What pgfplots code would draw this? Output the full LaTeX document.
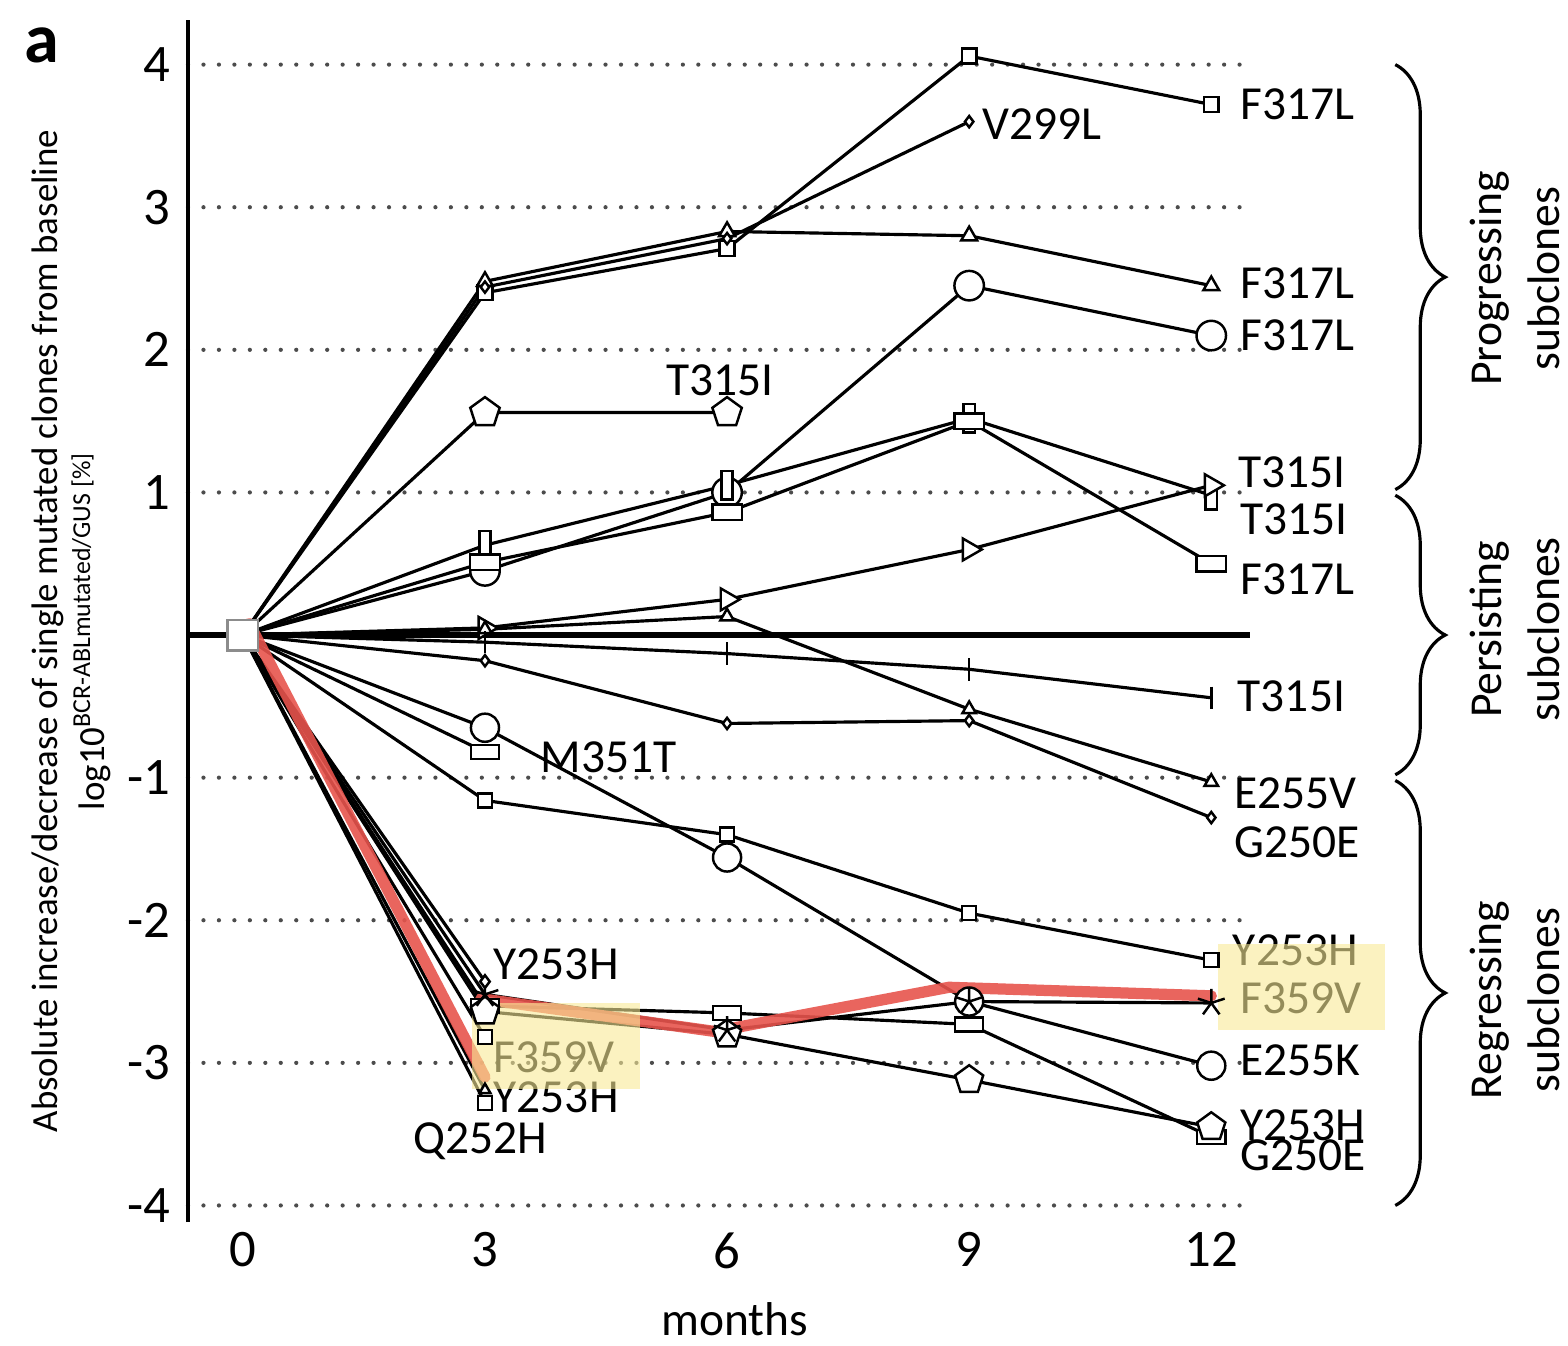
\documentclass[border=0pt]{standalone}
\usepackage{fontspec}
\setmainfont{Carlito}
\usepackage{pgfplots}
\pgfplotsset{compat=1.18}
\usetikzlibrary{plotmarks,decorations.pathreplacing}

\definecolor{redmark}{RGB}{231,84,77}
\definecolor{hilite}{RGB}{248,234,150}

\tikzset{
  mk/.style={solid, fill=white, line width=0.7pt},
  lbl/.style={font=\fontsize{13.5}{15}\selectfont, inner sep=0pt},
}
\pgfplotsset{ser/.style={black, line width=0.9pt, mark phase=2}}

\begin{document}
\begin{tikzpicture}
\path[use as bounding box] (-1.88,-1.23) rectangle (13.80,12.22);
\begin{axis}[
  scale only axis, width=10.62cm, height=12.02cm,
  xmin=-0.68, xmax=12.48, ymin=-4.116, ymax=4.313,
  axis lines=left, axis line style={-},
  x axis line style={draw=none},
  y axis line style={line width=1.4pt},
  major tick length=0pt,
  xtick={0,3,6,9,12}, xticklabels={0,3,6,9,12},
  ytick={-4,-3,-2,-1,1,2,3,4}, yticklabels={-4,-3,-2,-1,1,2,3,4},
  ticklabel style={font=\fontsize{15}{18}\selectfont},
  xticklabel style={yshift=0.02cm},
  yticklabel style={xshift=-0.05cm},
  ymajorgrids,
  grid style={black!70, line width=1.2pt, dash pattern=on 0pt off 4.4pt, line cap=round},
  xlabel={months},
  xlabel style={font=\fontsize{13.5}{15}\selectfont, at={(axis description cs:0.515,-0.081)}, anchor=center},
  ylabel={Absolute increase/decrease of single mutated clones from baseline\\log10\textsuperscript{BCR-ABLmutated/GUS [\%]}},
  ylabel style={font=\fontsize{10.5}{13.4}\selectfont, align=center, at={(axis description cs:-0.1102,0.4917)}, anchor=center},
  clip=false,
]
% baseline
\addplot[black, line width=1.7pt] coordinates {(-0.68,0) (12.48,0)};
\addplot[only marks, mark=square*, mark size=4.3pt, mark options={fill=white, draw=black!45, line width=0.8pt}] coordinates {(0,0)};

% progressing
\addplot[ser, mark=square*, mark size=2.1pt, mark options={mk}] coordinates {(0,0) (3,2.40) (6,2.71) (9,4.06) (12,3.72)};
\addplot[ser, mark=triangle*, mark size=2.6pt, mark options={mk}] coordinates {(0,0) (3,2.48) (6,2.83) (9,2.80) (12,2.45)};
\addplot[ser, mark=diamond*, mark size=1.6pt, mark options={mk}] coordinates {(0,0) (3,2.44) (6,2.78) (9,3.60)};
\addplot[ser, mark=*, mark size=4.2pt, mark options={mk}] coordinates {(0,0) (3,0.45) (6,1.00) (9,2.45) (12,2.10)};
\addplot[ser, mark=pentagon*, mark size=4.4pt, mark options={mk}] coordinates {(0,0) (3,1.56) (6,1.56)};
\addplot[ser, mark=square*, mark size=2pt, mark options={mk, xscale=0.8, yscale=2}] coordinates {(0,0) (3,0.63) (6,1.05) (9,1.52) (12,0.98)};
\addplot[ser, mark=square*, mark size=2pt, mark options={mk, xscale=2.1, yscale=1.1}] coordinates {(0,0) (3,0.51) (6,0.86) (9,1.50) (12,0.50)};
\addplot[ser, mark=triangle*, mark size=3.6pt, mark options={mk, rotate=-90}] coordinates {(0,0) (3,0.05) (6,0.25) (9,0.60) (12,1.05)};

% persisting
\addplot[ser, mark=triangle*, mark size=2.2pt, mark options={mk}] coordinates {(0,0) (3,0.04) (6,0.13) (9,-0.52) (12,-1.03)};
\addplot[ser, mark=|, mark size=3.2pt, mark options={mk}] coordinates {(0,0) (3,-0.05) (6,-0.13) (9,-0.24) (12,-0.44)};
\addplot[ser, mark=diamond*, mark size=1.6pt, mark options={mk}] coordinates {(0,0) (3,-0.18) (6,-0.62) (9,-0.60) (12,-1.28)};

% regressing
\addplot[ser, mark=*, mark size=4pt, mark options={mk}] coordinates {(0,0) (3,-0.65) (6,-1.56) (9,-2.57) (12,-3.02)};
\addplot[ser, mark=square*, mark size=2pt, mark options={mk, xscale=2, yscale=1}] coordinates {(0,0) (3,-0.82)};
\addplot[ser, mark=square*, mark size=2pt, mark options={mk}] coordinates {(0,0) (3,-1.16) (6,-1.40) (9,-1.95) (12,-2.28)};
\addplot[ser, mark=square*, mark size=2pt, mark options={mk, xscale=2, yscale=1}] coordinates {(0,0) (3,-2.60) (6,-2.65) (9,-2.73) (12,-3.52)};
\addplot[ser, mark=pentagon*, mark size=4.2pt, mark options={mk}] coordinates {(0,0) (3,-2.64) (6,-2.80) (9,-3.12) (12,-3.45)};
\addplot[ser, mark=star, mark size=4pt, mark options={mk}] coordinates {(0,0) (3,-2.52) (6,-2.77) (9,-2.57) (12,-2.58)};
\addplot[ser, mark=diamond*, mark size=1.8pt, mark options={mk}] coordinates {(0,0) (3,-2.43)};
\addplot[ser, mark=square*, mark size=2pt, mark options={mk}] coordinates {(0,0) (3,-2.82)};
\addplot[ser, mark=triangle*, mark size=1.8pt, mark options={mk}] coordinates {(0,0) (3,-3.19)};
\addplot[ser, mark=square*, mark size=2pt, mark options={mk}] coordinates {(0,0) (3,-3.28)};

% hand-drawn highlight
\addplot[redmark, line width=3.2pt, opacity=0.9, line cap=round] coordinates {(0.08,0.08) (3.0,-3.1)};
\addplot[redmark, line width=3.2pt, opacity=0.9, line cap=round, line join=round] coordinates {(2.95,-2.55) (5.85,-2.78) (8.75,-2.47) (12.0,-2.53)};

% labels
\node[lbl, anchor=west] at (axis cs:12.35,3.72) {F317L};
\node[lbl, anchor=west] at (axis cs:9.16,3.58) {V299L};
\node[lbl, anchor=west] at (axis cs:12.35,2.47) {F317L};
\node[lbl, anchor=west] at (axis cs:12.35,2.10) {F317L};
\node[lbl] at (axis cs:5.91,1.79) {T315I};
\node[lbl, anchor=west] at (axis cs:12.33,1.14) {T315I};
\node[lbl, anchor=west] at (axis cs:12.35,0.81) {T315I};
\node[lbl, anchor=west] at (axis cs:12.35,0.39) {F317L};
\node[lbl, anchor=west] at (axis cs:12.32,-0.43) {T315I};
\node[lbl, anchor=west] at (axis cs:12.28,-1.11) {E255V};
\node[lbl, anchor=west] at (axis cs:12.28,-1.45) {G250E};
\node[lbl, anchor=west] at (axis cs:3.68,-0.86) {M351T};
\node[lbl, anchor=west] at (axis cs:12.26,-2.21) {Y253H};
\node[lbl, anchor=west] at (axis cs:12.35,-2.55) {F359V};
\node[lbl, anchor=west] at (axis cs:12.35,-2.98) {E255K};
\node[lbl, anchor=west] at (axis cs:12.35,-3.44) {Y253H};
\node[lbl, anchor=west] at (axis cs:12.35,-3.65) {G250E};
\node[lbl, anchor=west] at (axis cs:3.10,-2.31) {Y253H};
\node[lbl, anchor=west] at (axis cs:3.10,-2.96) {F359V};
\node[lbl, anchor=west] at (axis cs:3.10,-3.24) {Y253H};
\node[lbl] at (axis cs:2.94,-3.55) {Q252H};

% highlight boxes
\addplot[draw=none, fill=hilite, fill opacity=0.6] coordinates {(2.84,-2.58) (4.92,-2.58) (4.92,-3.18) (2.84,-3.18)} -- cycle;
\addplot[draw=none, fill=hilite, fill opacity=0.6] coordinates {(12.08,-2.17) (14.15,-2.17) (14.15,-2.77) (12.08,-2.77)} -- cycle;

% group braces
\draw[line width=0.9pt, decorate, decoration={brace, amplitude=0.5cm}] (axis cs:14.28,4.0) -- (axis cs:14.28,1.02);
\draw[line width=0.9pt, decorate, decoration={brace, amplitude=0.5cm}] (axis cs:14.28,0.98) -- (axis cs:14.28,-0.98);
\draw[line width=0.9pt, decorate, decoration={brace, amplitude=0.5cm}] (axis cs:14.28,-1.02) -- (axis cs:14.28,-4.0);
\node[rotate=90, align=center, font=\fontsize{13}{16.5}\selectfont] at (axis cs:15.76,2.50) {Progressing\\subclones};
\node[rotate=90, align=center, font=\fontsize{13}{16.5}\selectfont] at (axis cs:15.76,0.04) {Persisting\\subclones};
\node[rotate=90, align=center, font=\fontsize{13}{16.5}\selectfont] at (axis cs:15.76,-2.56) {Regressing\\subclones};

\node[font=\fontsize{20}{22}\selectfont\bfseries] at (rel axis cs:-0.1375,0.979) {a};
\end{axis}
\end{tikzpicture}
\end{document}
